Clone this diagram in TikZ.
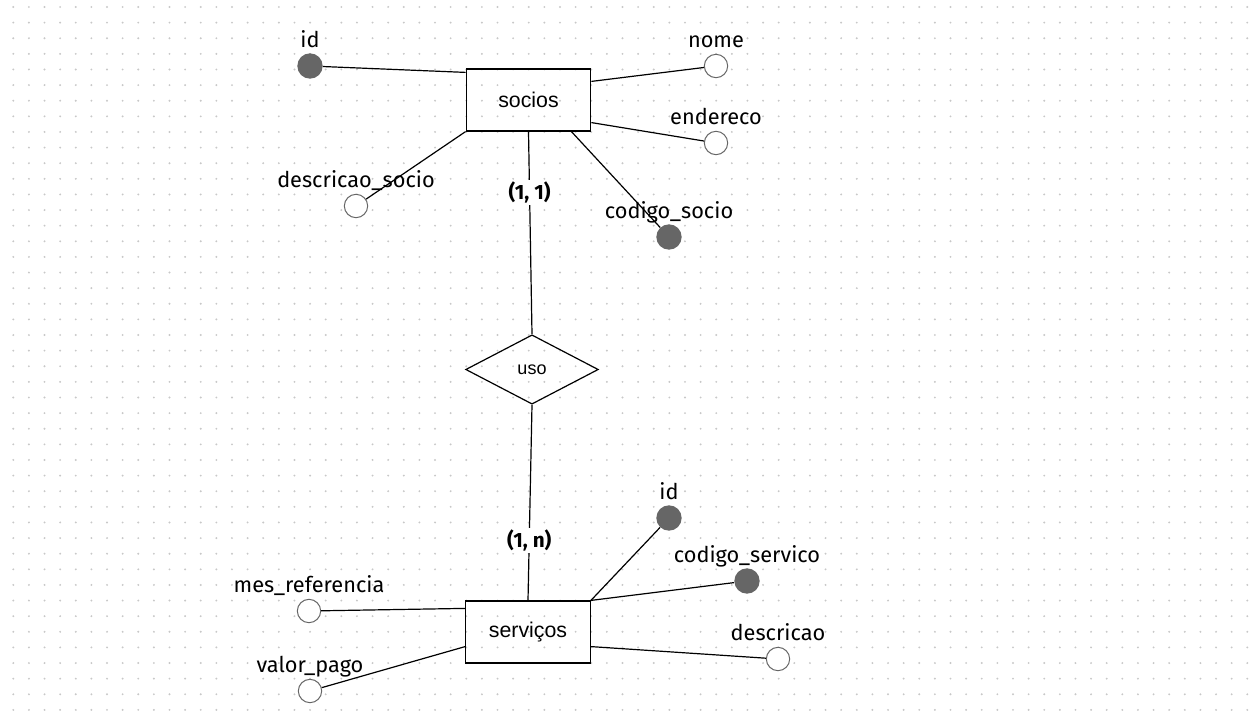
\documentclass[tikz,border=0pt]{standalone}
\usepackage{fontspec}
\setmainfont{Fira Sans}
\newfontfamily\entityfont{Liberation Sans}
\usetikzlibrary{shapes.geometric}
\definecolor{keyfill}{HTML}{666666}
\definecolor{griddot}{HTML}{C8C8C8}
\begin{document}
\begin{tikzpicture}[x=0.75pt, y=-0.75pt,
  entity/.style={draw, line width=0.9pt, minimum width=93.5pt, minimum height=46.5pt,
    inner sep=0pt, font=\entityfont\fontsize{16}{18}\selectfont},
  relation/.style={draw, diamond, line width=0.9pt, minimum width=99.5pt, minimum height=52pt,
    inner sep=0pt, font=\entityfont\fontsize{13.5}{15}\selectfont},
  attr/.style={circle, draw=keyfill, line width=0.75pt, fill=white, minimum size=17.5pt, inner sep=0pt},
  keyattr/.style={circle, fill=keyfill, minimum size=19pt, inner sep=0pt},
  attrname/.style={anchor=base, inner sep=0pt, font=\fontsize{16.3}{19}\selectfont},
  card/.style={fill=white, inner sep=1.5pt, font=\bfseries\fontsize{15.5}{17}\selectfont},
  link/.style={line width=0.9pt}]
\useasboundingbox (0,0) rectangle (1253,720);
% dotted background grid
\foreach \i in {0,...,79}{
  \foreach \j in {0,...,45}{
    \fill[griddot] ({13.3+15.62*\i},{7+15.62*\j}) circle (0.8pt);
  }
}

% entities and relationship
\node[entity] (socios) at (528.5,100) {socios};
\node[relation] (uso) at (532,369.5) {uso};
\node[entity] (servicos) at (528,632) {serviços};

% attributes of socios
\node[keyattr] (s-id) at (310,66) {};
\node[attr] (s-nome) at (716,66) {};
\node[attr] (s-end) at (716,143) {};
\node[attr] (s-desc) at (356,206) {};
\node[keyattr] (s-cod) at (669,237) {};

% attributes of servicos
\node[keyattr] (v-id) at (669,518) {};
\node[keyattr] (v-cod) at (747,581) {};
\node[attr] (v-desc) at (778,659) {};
\node[attr] (v-mes) at (309,611) {};
\node[attr] (v-val) at (310,691) {};

% attribute names
\node[attrname] (l-s-id) at ([yshift=13.9pt]s-id.center) {id};
\node[attrname] (l-s-nome) at ([yshift=13.9pt]s-nome.center) {nome};
\node[attrname] (l-s-end) at ([yshift=13.9pt]s-end.center) {endereco};
\node[attrname] (l-s-desc) at ([yshift=13.9pt]s-desc.center) {descricao\_socio};
\node[attrname] (l-s-cod) at ([yshift=13.9pt]s-cod.center) {codigo\_socio};
\node[attrname] (l-v-id) at ([yshift=13.9pt]v-id.center) {id};
\node[attrname] (l-v-cod) at ([yshift=13.9pt]v-cod.center) {codigo\_servico};
\node[attrname] (l-v-desc) at ([yshift=13.9pt]v-desc.center) {descricao};
\node[attrname] (l-v-mes) at ([yshift=13.9pt]v-mes.center) {mes\_referencia};
\node[attrname] (l-v-val) at ([yshift=13.9pt]v-val.center) {valor\_pago};

% links from socios
\draw[link] (s-id) -- ([yshift=-3pt]socios.north west);
\draw[link] ([yshift=-9.75pt]socios.north east) -- (s-nome);
\draw[link] ([yshift=6.75pt]socios.south east) -- (s-end);
\draw[link] (socios.south west) -- (s-desc);
\draw[link] ([xshift=-15pt]socios.south east) -- (s-cod);

% links from servicos
\draw[link] (servicos.north east) -- (v-id);
\draw[link] (servicos.north east) -- (v-cod);
\draw[link] ([yshift=12.75pt]servicos.south east) -- (v-desc);
\draw[link] ([yshift=-6pt]servicos.north west) -- (v-mes);
\draw[link] ([yshift=12.75pt]servicos.south west) -- (v-val);

% relationship with cardinalities
\draw[link] (socios.south) -- node[card, pos=0.3] (c-top) {(1, 1)} (uso.north);
\draw[link] (uso.south) -- node[card, pos=0.695] (c-bot) {(1, n)} (servicos.north);
\end{tikzpicture}
\end{document}
